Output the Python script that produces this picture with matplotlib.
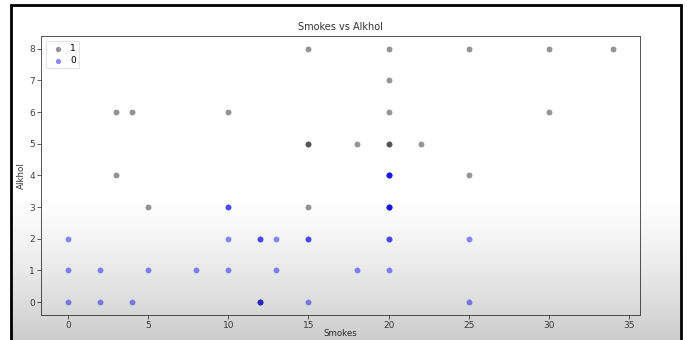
import numpy as np
import matplotlib
matplotlib.use("Agg")
import matplotlib.pyplot as plt
from matplotlib.patches import Rectangle

# Smokes / Alkhol pairs for each class (repeated pairs are stacked records)
smokes_1 = [15, 20, 25, 30, 34, 20, 3, 4, 10, 20, 30, 15, 15, 18, 20, 20, 22, 3, 25, 5, 15, 20, 12, 20]
alkhol_1 = [8, 8, 8, 8, 8, 7, 6, 6, 6, 6, 6, 5, 5, 5, 5, 5, 5, 4, 4, 3, 3, 4, 0, 3]

smokes_0 = [0, 0, 0, 2, 2, 4, 5, 8, 10, 10, 10, 10, 12, 12, 12, 12, 13, 13,
            15, 15, 15, 18, 20, 20, 20, 20, 20, 20, 20, 20, 20, 25, 25]
alkhol_0 = [2, 1, 0, 1, 0, 0, 1, 1, 3, 3, 2, 1, 2, 2, 0, 0, 2, 1,
            2, 2, 0, 1, 4, 4, 4, 3, 3, 3, 2, 2, 1, 2, 0]

plt.rcParams['font.family'] = ['DejaVu Sans']

fig = plt.figure(figsize=(6.87, 3.40), dpi=100)
fig.patch.set_facecolor('white')
ax = fig.add_axes([0.0597, 0.074, 0.8719, 0.820])
ax.set_facecolor('white')

ax.scatter(smokes_1, alkhol_1, s=18, color='black', alpha=0.42, linewidths=0, label='1')
ax.scatter(smokes_0, alkhol_0, s=18, color='blue', alpha=0.45, linewidths=0, label='0')

ax.set_title('Smokes vs Alkhol', fontsize=7, pad=4, color='#333333')
ax.set_xlabel('Smokes', fontsize=6.2, labelpad=-0.5, color='#333333')
ax.set_ylabel('Alkhol', fontsize=6.3, labelpad=2, color='#333333')
ax.set_xticks([0, 5, 10, 15, 20, 25, 30, 35])
ax.set_yticks(range(0, 9))
ax.tick_params(labelsize=6.5, length=3, width=0.6, colors='#444444', pad=1.5)
for sp in ax.spines.values():
    sp.set_linewidth(0.7)
    sp.set_color('#555555')

leg = ax.legend(loc='upper left', fontsize=6.5, markerscale=0.9, handletextpad=0.3,
                borderpad=0.4, labelspacing=0.3, frameon=True)
leg.get_frame().set_linewidth(0.5)

# screen frame around the plot
fig.add_artist(Rectangle((0.016, -0.05), 0.975, 1.035, transform=fig.transFigure,
                         fill=False, edgecolor='black', linewidth=2.0, zorder=20))

# soft grey shading toward the bottom edge, inside the frame
shade = fig.add_axes([0, 0, 1, 1], zorder=10)
shade.set_axis_off()
h = 200
ramp = np.clip((np.linspace(0, 1, h) - 0.56) / 0.44, 0, 1) ** 1.3 * 0.2
img = np.zeros((h, 2, 4))
img[..., 3] = ramp[:, None]
shade.imshow(img, aspect='auto', extent=[0.016, 0.991, 0, 1], origin='upper')
shade.set_xlim(0, 1)
shade.set_ylim(0, 1)

fig.savefig('out.png', dpi=100)
